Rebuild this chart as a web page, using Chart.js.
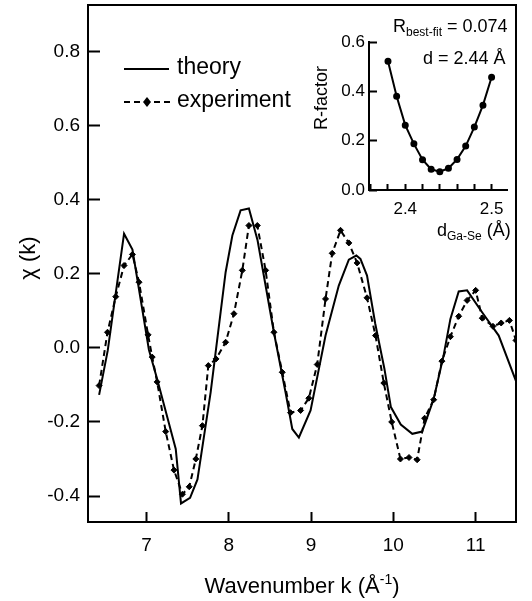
<!DOCTYPE html>
<html>
<head>
<meta charset="utf-8">
<script src="https://cdn.jsdelivr.net/npm/chart.js@4.4.1/dist/chart.umd.min.js"></script>
<style>
  html, body { margin: 0; padding: 0; background: #fff; }
  #wrap { position: relative; width: 532px; height: 601px; }
  #main { position: absolute; left: 0; top: 0; }
  #inset { position: absolute; left: 300px; top: 0; }
</style>
</head>
<body>
<div id="wrap">
  <canvas id="main" width="532" height="601"></canvas>
  <canvas id="inset" width="232" height="250"></canvas>
</div>
<script>
const FONT = '"Liberation Sans", Arial, Helvetica, sans-serif';

// main plot: chi(k), theory (solid) and experiment (dashed + diamonds)
const theoryK = [6.425, 6.53, 6.728, 6.83, 7.03, 7.13, 7.356, 7.42, 7.53, 7.62, 7.78, 7.962, 8.044, 8.144, 8.245, 8.35, 8.55, 8.69, 8.772, 8.852, 8.994, 9.176, 9.337, 9.459, 9.55, 9.60, 9.68, 9.78, 9.89, 9.97, 10.09, 10.23, 10.35, 10.49, 10.61, 10.693, 10.794, 10.896, 11.078, 11.28, 11.49];
const theoryChi = [-0.127, -0.007, 0.308, 0.265, -0.005, -0.084, -0.273, -0.42, -0.405, -0.355, -0.12, 0.204, 0.303, 0.371, 0.376, 0.29, 0.04, -0.12, -0.219, -0.242, -0.169, 0.033, 0.168, 0.238, 0.249, 0.24, 0.195, 0.065, -0.055, -0.16, -0.207, -0.232, -0.226, -0.138, -0.021, 0.078, 0.152, 0.155, 0.096, 0.033, -0.09];
const expK = [6.425, 6.527, 6.627, 6.728, 6.83, 6.91, 7.02, 7.07, 7.13, 7.234, 7.335, 7.437, 7.52, 7.60, 7.68, 7.752, 7.845, 7.962, 8.063, 8.165, 8.245, 8.347, 8.448, 8.549, 8.65, 8.751, 8.873, 8.973, 9.075, 9.176, 9.257, 9.358, 9.459, 9.56, 9.68, 9.783, 9.884, 9.98, 10.086, 10.19, 10.289, 10.38, 10.49, 10.59, 10.693, 10.794, 10.896, 11.0, 11.08, 11.21, 11.31, 11.41, 11.49];
const expChi = [-0.102, 0.042, 0.138, 0.222, 0.252, 0.177, 0.035, -0.025, -0.092, -0.226, -0.33, -0.395, -0.375, -0.30, -0.21, -0.048, -0.03, 0.015, 0.092, 0.209, 0.33, 0.33, 0.209, 0.042, -0.066, -0.175, -0.169, -0.136, -0.045, 0.132, 0.255, 0.317, 0.283, 0.229, 0.135, 0.033, -0.095, -0.20, -0.30, -0.296, -0.302, -0.19, -0.14, -0.036, 0.03, 0.085, 0.128, 0.155, 0.08, 0.058, 0.067, 0.074, 0.02];
const kTicks = [7, 8, 9, 10, 11];
const chiTicks = [-0.4, -0.2, 0.0, 0.2, 0.4, 0.6, 0.8];

// inset: R-factor vs Ga-Se distance
const dGaSe = [2.38, 2.39, 2.40, 2.41, 2.42, 2.43, 2.44, 2.45, 2.46, 2.47, 2.48, 2.49, 2.50];
const rFactor = [0.522, 0.38, 0.263, 0.187, 0.123, 0.084, 0.074, 0.088, 0.124, 0.178, 0.255, 0.344, 0.457];
const dTicks = [2.36, 2.38, 2.40, 2.42, 2.44, 2.46, 2.48, 2.50];
const dLabelTicks = [2.40, 2.50];
const rTicks = [0.0, 0.2, 0.4, 0.6];

Chart.defaults.color = '#000';
Chart.defaults.font.family = FONT;

const pts = (xs, ys) => xs.map((x, i) => ({ x: x, y: ys[i] }));
const setTicks = arr => scale => { scale.ticks = arr.map(v => ({ value: v })); };
const isLabelled = v => dLabelTicks.some(d => Math.abs(d - v) < 1e-6);

// inward tick marks, drawn by the scales themselves (negative tick length)
const inwardGrid = len => ({
    display: true,
    drawOnChartArea: false,
    drawTicks: true,
    tickLength: -len,
    tickWidth: 2,
    tickColor: '#000'
});

// draws text made of pieces (normal / sub / sup)
function drawPieces(ctx, x, y, pieces) {
    let cx = x;
    pieces.forEach(p => {
        ctx.font = p.size + 'px ' + FONT;
        ctx.fillText(p.t, cx, y + (p.dy || 0));
        cx += ctx.measureText(p.t).width;
    });
    return cx - x;
}
function piecesWidth(ctx, pieces) {
    let w = 0;
    pieces.forEach(p => { ctx.font = p.size + 'px ' + FONT; w += ctx.measureText(p.t).width; });
    return w;
}

const mainDeco = {
    id: 'mainDeco',
    afterDraw(chart) {
        const ctx = chart.ctx;
        const a = chart.chartArea;
        ctx.save();
        ctx.setLineDash([]);
        ctx.strokeStyle = '#000';
        ctx.fillStyle = '#000';
        ctx.lineWidth = 2;
        ctx.strokeRect(a.left, a.top, a.right - a.left, a.bottom - a.top);

        // legend
        ctx.beginPath();
        ctx.moveTo(124, 69); ctx.lineTo(169, 69);
        ctx.stroke();
        ctx.setLineDash([6, 4]);
        ctx.beginPath();
        ctx.moveTo(124, 102); ctx.lineTo(170, 102);
        ctx.stroke();
        ctx.setLineDash([]);
        ctx.beginPath();
        ctx.moveTo(147, 97); ctx.lineTo(151, 102); ctx.lineTo(147, 107); ctx.lineTo(143, 102);
        ctx.closePath(); ctx.fill();
        ctx.font = '23px ' + FONT;
        ctx.textBaseline = 'middle';
        ctx.textAlign = 'left';
        ctx.fillText('theory', 177, 68);
        ctx.fillText('experiment', 177, 101);

        // y title
        ctx.save();
        ctx.translate(29, 258);
        ctx.rotate(-Math.PI / 2);
        ctx.textAlign = 'center';
        ctx.font = '22px ' + FONT;
        ctx.fillText('\u03c7 (k)', 0, 0);
        ctx.restore();

        // x title
        ctx.textBaseline = 'alphabetic';
        const xt = [{ t: 'Wavenumber k (\u00c5', size: 22 }, { t: '-1', size: 14, dy: -9 }, { t: ')', size: 22 }];
        const w = piecesWidth(ctx, xt);
        drawPieces(ctx, (a.left + a.right) / 2 - w / 2, 593, xt);
        ctx.restore();
    }
};

new Chart(document.getElementById('main'), {
    type: 'line',
    data: {
        datasets: [
            {
                label: 'theory',
                data: pts(theoryK, theoryChi),
                borderColor: '#000',
                borderWidth: 2,
                pointRadius: 0,
                tension: 0
            },
            {
                label: 'experiment',
                data: pts(expK, expChi),
                borderColor: '#000',
                borderWidth: 2,
                borderDash: [6, 4],
                pointStyle: 'rectRot',
                pointRadius: 3,
                pointBackgroundColor: '#000',
                pointBorderColor: '#000',
                pointBorderWidth: 1,
                tension: 0
            }
        ]
    },
    options: {
        responsive: false,
        animation: false,
        devicePixelRatio: 1,
        layout: { padding: { left: 0, top: 5, right: 16, bottom: 0 } },
        plugins: { legend: { display: false }, tooltip: { enabled: false } },
        scales: {
            x: {
                type: 'linear',
                min: 6.29,
                max: 11.49,
                afterBuildTicks: setTicks(kTicks),
                afterFit: s => { s.height = 79; s.paddingLeft = 0; s.paddingRight = 0; },
                grid: inwardGrid(10),
                border: { display: false },
                ticks: { font: { size: 19 }, padding: 22, autoSkip: false, maxRotation: 0, callback: v => String(v) }
            },
            y: {
                type: 'linear',
                min: -0.47,
                max: 0.925,
                afterBuildTicks: setTicks(chiTicks),
                afterFit: s => { s.width = 88; s.paddingTop = 0; s.paddingBottom = 0; },
                grid: inwardGrid(12),
                border: { display: false },
                ticks: { font: { size: 19 }, padding: 20, autoSkip: false, callback: v => v.toFixed(1) }
            }
        }
    },
    plugins: [mainDeco]
});

const insetDeco = {
    id: 'insetDeco',
    afterDraw(chart) {
        const ctx = chart.ctx;
        const a = chart.chartArea;
        ctx.save();
        ctx.setLineDash([]);
        ctx.fillStyle = '#000';
        ctx.fillRect(a.left - 1, a.top - 1, 2, a.bottom - a.top + 2);
        ctx.fillRect(a.left - 1, a.bottom - 1, a.right - a.left + 1, 2);

        ctx.textBaseline = 'alphabetic';
        ctx.textAlign = 'left';
        drawPieces(ctx, 93, 32, [{ t: 'R', size: 18 }, { t: 'best-fit', size: 12, dy: 4 }, { t: ' = 0.074', size: 18 }]);
        drawPieces(ctx, 123, 64, [{ t: 'd = 2.44 \u00c5', size: 18 }]);
        drawPieces(ctx, 137, 236, [{ t: 'd', size: 18 }, { t: 'Ga-Se', size: 12, dy: 4 }, { t: ' (\u00c5)', size: 18 }]);

        ctx.save();
        ctx.translate(22, 98);
        ctx.rotate(-Math.PI / 2);
        ctx.textAlign = 'center';
        ctx.textBaseline = 'middle';
        ctx.font = '18px ' + FONT;
        ctx.fillText('R-factor', 0, 0);
        ctx.restore();
        ctx.restore();
    }
};

new Chart(document.getElementById('inset'), {
    type: 'line',
    data: {
        datasets: [{
            label: 'R-factor',
            data: pts(dGaSe, rFactor),
            borderColor: '#000',
            borderWidth: 2,
            pointRadius: 2.5,
            pointBackgroundColor: '#000',
            pointBorderColor: '#000',
            tension: 0
        }]
    },
    options: {
        responsive: false,
        animation: false,
        devicePixelRatio: 1,
        layout: { padding: { left: 0, top: 42, right: 24, bottom: 0 } },
        plugins: { legend: { display: false }, tooltip: { enabled: false } },
        scales: {
            x: {
                type: 'linear',
                min: 2.358,
                max: 2.519,
                afterBuildTicks: setTicks(dTicks),
                afterFit: s => { s.height = 60; s.paddingLeft = 0; s.paddingRight = 0; },
                grid: Object.assign(inwardGrid(7), { tickLength: ctx => (ctx.tick && isLabelled(ctx.tick.value)) ? -8 : -6 }),
                border: { display: false },
                ticks: {
                    font: { size: 17 }, padding: 15, autoSkip: false, maxRotation: 0,
                    callback: v => isLabelled(v) ? v.toFixed(1) : ''
                }
            },
            y: {
                type: 'linear',
                min: 0,
                max: 0.6,
                afterBuildTicks: setTicks(rTicks),
                afterFit: s => { s.width = 69; s.paddingTop = 0; s.paddingBottom = 0; },
                grid: inwardGrid(8),
                border: { display: false },
                ticks: { font: { size: 17 }, padding: 12, autoSkip: false, callback: v => v.toFixed(1) }
            }
        }
    },
    plugins: [insetDeco]
});
</script>
</body>
</html>
